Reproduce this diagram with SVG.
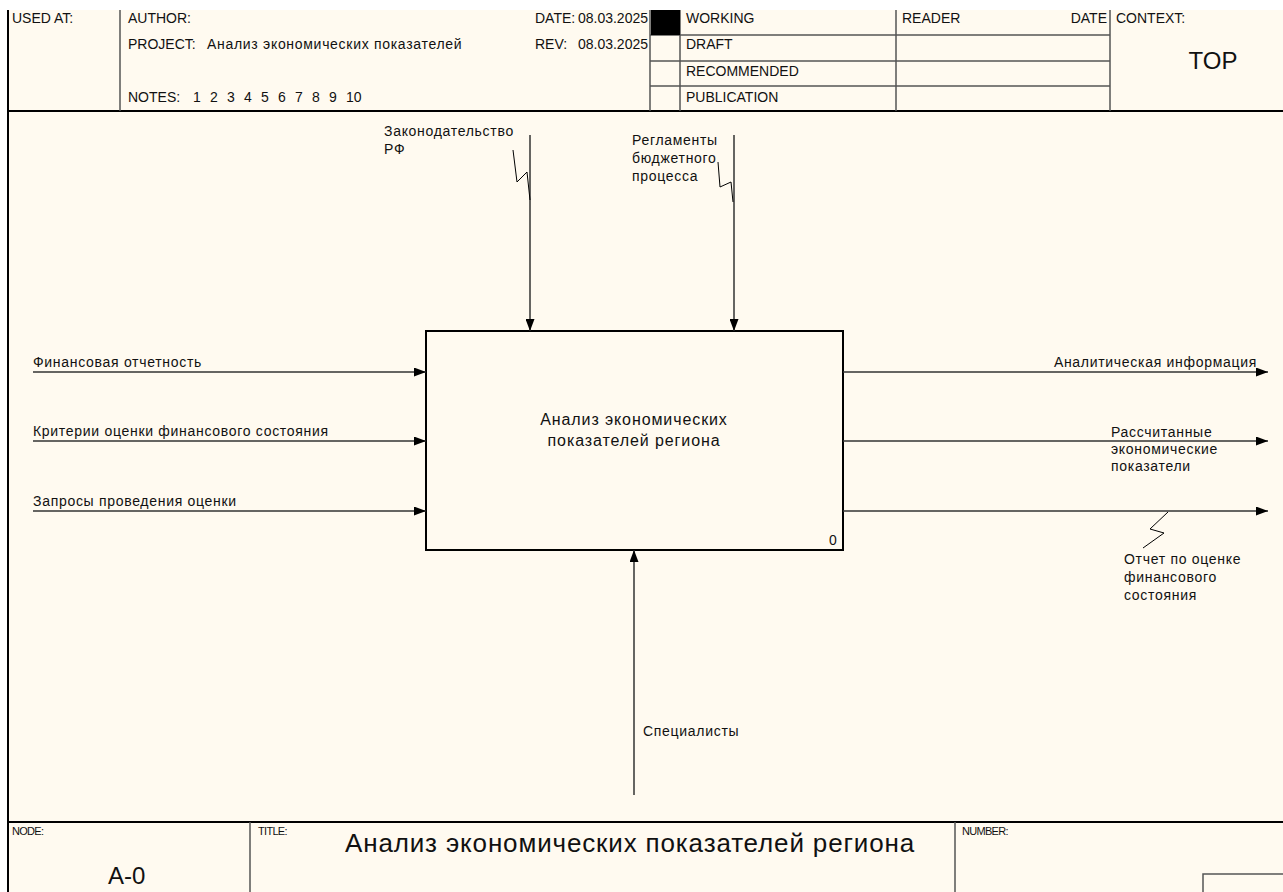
<svg xmlns="http://www.w3.org/2000/svg" width="1283" height="892" viewBox="0 0 1283 892">
<defs>
<style>
text{font-family:"Liberation Sans",Arial,sans-serif;fill:#111}
.h{font-size:14px}
.hc{font-size:14px;letter-spacing:0.7px}
.s{font-size:11px;letter-spacing:-0.7px}
.l{font-size:14px;letter-spacing:0.7px}
.b{font-size:16px;letter-spacing:0.9px}
.frame{stroke:#000;stroke-width:2;fill:none}
.thin{stroke:#555;stroke-width:1.5;fill:none}
.arr{stroke:#333;stroke-width:1.5;fill:none}
.sq{stroke:#000;stroke-width:1;fill:none}
</style>
<marker id="ah" viewBox="0 0 12 9" refX="12" refY="4.5" markerWidth="12" markerHeight="9" markerUnits="userSpaceOnUse" orient="auto">
<path d="M0,0 L12,4.5 L0,9 Z" fill="#000"/>
</marker>
</defs>
<rect x="0" y="0" width="1283" height="892" fill="#fff"/>
<rect x="8" y="10" width="1275" height="882" fill="#FFFAF0"/>
<g id="frame">
<line x1="8" y1="10" x2="8" y2="892" class="frame"/>
<line x1="8" y1="111" x2="1283" y2="111" class="frame"/>
<line x1="8" y1="822" x2="1283" y2="822" class="frame"/>
</g>
<g id="header">
<line x1="120" y1="10" x2="120" y2="111" class="thin"/>
<line x1="650" y1="10" x2="650" y2="111" class="thin"/>
<line x1="680" y1="10" x2="680" y2="111" class="thin"/>
<line x1="896" y1="10" x2="896" y2="111" class="thin"/>
<line x1="1110" y1="10" x2="1110" y2="111" class="thin"/>
<line x1="650" y1="35" x2="1110" y2="35" class="thin"/>
<line x1="650" y1="61" x2="1110" y2="61" class="thin"/>
<line x1="650" y1="86" x2="1110" y2="86" class="thin"/>
<rect x="651" y="10" width="29" height="25" fill="#000"/>
<text x="12" y="23" class="h">USED AT:</text>
<text x="128" y="23" class="h">AUTHOR:</text>
<text x="128" y="49" class="h">PROJECT:</text>
<text x="207" y="49" class="hc">Анализ экономических показателей</text>
<text x="128" y="102" class="h">NOTES:</text>
<text y="102" class="h"><tspan x="193">1</tspan><tspan x="210">2</tspan><tspan x="227">3</tspan><tspan x="244">4</tspan><tspan x="261">5</tspan><tspan x="278">6</tspan><tspan x="295">7</tspan><tspan x="312">8</tspan><tspan x="329">9</tspan><tspan x="346">10</tspan></text>
<text x="535" y="23" class="h">DATE:</text>
<text x="648" y="23" class="h" text-anchor="end">08.03.2025</text>
<text x="535" y="49" class="h">REV:</text>
<text x="648" y="49" class="h" text-anchor="end">08.03.2025</text>
<text x="686" y="23" class="h">WORKING</text>
<text x="686" y="49" class="h">DRAFT</text>
<text x="686" y="76" class="h">RECOMMENDED</text>
<text x="686" y="102" class="h">PUBLICATION</text>
<text x="902" y="23" class="h">READER</text>
<text x="1107" y="23" class="h" text-anchor="end">DATE</text>
<text x="1116" y="23" class="h">CONTEXT:</text>
<text x="1213" y="69" font-size="24" text-anchor="middle">TOP</text>
</g>
<g id="footer">
<line x1="250" y1="822" x2="250" y2="892" class="thin"/>
<line x1="955" y1="822" x2="955" y2="892" class="thin"/>
<path d="M1203,892 V874 H1283" class="thin"/>
<text x="12" y="835" class="s">NODE:</text>
<text x="108" y="884" font-size="24">A-0</text>
<text x="258" y="835" class="s">TITLE:</text>
<text x="345" y="852" font-size="26" letter-spacing="0.85">Анализ экономических показателей региона</text>
<text x="962" y="835" class="s">NUMBER:</text>
</g>
<g id="node-A0">
<rect x="426" y="331" width="417" height="219" fill="#FFFAF0" stroke="#000" stroke-width="2"/>
<text x="634" y="425" class="b" text-anchor="middle">Анализ экономических</text>
<text x="634" y="446" class="b" text-anchor="middle">показателей региона</text>
<text x="829" y="545" font-size="14">0</text>
</g>
<g id="connectors">
<line x1="33" y1="372" x2="426" y2="372" class="arr" marker-end="url(#ah)"/>
<line x1="33" y1="441" x2="426" y2="441" class="arr" marker-end="url(#ah)"/>
<line x1="33" y1="511" x2="426" y2="511" class="arr" marker-end="url(#ah)"/>
<line x1="530" y1="135" x2="530" y2="331" class="arr" marker-end="url(#ah)"/>
<line x1="734" y1="135" x2="734" y2="331" class="arr" marker-end="url(#ah)"/>
<line x1="634" y1="795" x2="634" y2="550" class="arr" marker-end="url(#ah)"/>
<line x1="843" y1="372" x2="1268" y2="372" class="arr" marker-end="url(#ah)"/>
<line x1="843" y1="441" x2="1268" y2="441" class="arr" marker-end="url(#ah)"/>
<line x1="843" y1="511" x2="1268" y2="511" class="arr" marker-end="url(#ah)"/>
<polyline points="513,150 517,182 527,172 530,200" class="sq"/>
<polyline points="718,162 720,187 731,182 733,202" class="sq"/>
<polyline points="1168,512 1150,529 1164,533 1143,548" class="sq"/>
<text x="33" y="367" class="l">Финансовая отчетность</text>
<text x="33" y="436" class="l">Критерии оценки финансового состояния</text>
<text x="33" y="506" class="l">Запросы проведения оценки</text>
<text x="384" y="136" class="l">Законодательство</text>
<text x="384" y="154" class="l">РФ</text>
<text x="632" y="145" class="l">Регламенты</text>
<text x="632" y="163" class="l">бюджетного</text>
<text x="632" y="181" class="l">процесса</text>
<text x="643" y="736" class="l">Специалисты</text>
<text x="1257" y="367" class="l" text-anchor="end">Аналитическая информация</text>
<text x="1111" y="437" class="l">Рассчитанные</text>
<text x="1111" y="454" class="l">экономические</text>
<text x="1111" y="471" class="l">показатели</text>
<text x="1124" y="564" class="l">Отчет по оценке</text>
<text x="1124" y="582" class="l">финансового</text>
<text x="1124" y="600" class="l">состояния</text>
</g>
</svg>
